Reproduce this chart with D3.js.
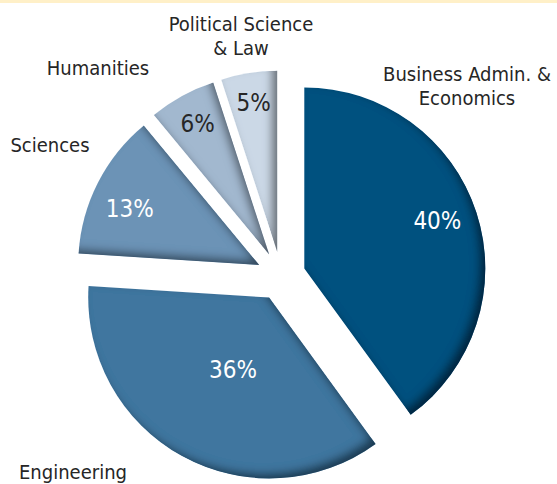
<!DOCTYPE html>
<html>
<head>
<meta charset="utf-8">
<script src="https://cdn.jsdelivr.net/npm/d3@7"></script>
<style>
  html, body { margin: 0; padding: 0; background: #ffffff; }
  svg { display: block; }
  text { font-family: "DejaVu Sans Condensed", "DejaVu Sans", sans-serif; }
</style>
</head>
<body>
<svg id="chart" width="557" height="484"></svg>
<script>
// Share of students by field of study
const categories = [
  "Business Admin. & Economics",
  "Engineering",
  "Sciences",
  "Humanities",
  "Political Science & Law"
];
const shares = [40, 36, 13, 6, 5];
const valueLabels = ["40%", "36%", "13%", "6%", "5%"];

// Category label lines (multi-line names are split here)
const nameLines = [
  ["Business Admin. &", "Economics"],
  ["Engineering"],
  ["Sciences"],
  ["Humanities"],
  ["Political Science", "& Law"]
];

const fills = ["#02517f", "#41769f", "#6c93b6", "#a2b8cf", "#cbd8e6"];
const valueInk = ["#ffffff", "#ffffff", "#ffffff", "#262626", "#262626"];

// Layout
const W = 557, H = 484;
const cx = 281, cy = 276;
const radius = 181;
const explode = 24.5;
// radial position of the percentage text, as a fraction of the radius
const valueRadius = [0.78, 0.45, 0.78, 0.82, 0.83];
// small angular nudge of the percentage text, degrees
const valueTurn = [-1.5, -2.5, -3.5, 0, 0];
// category label anchors: [x, first baseline]
const nameAnchor = [[467, 81], [73, 479], [50, 152], [98, 75], [241, 31]];
const lineGap = 24;

const svg = d3.select("#chart");

// thin cream band along the top edge
svg.append("rect").attr("x", 0).attr("y", 0).attr("width", W).attr("height", 3)
  .attr("fill", "#fff0c8");

// inner shadow on the lower-right edges of each slice
const defs = svg.append("defs");
const f = defs.append("filter").attr("id", "bevel")
  .attr("x", "-10%").attr("y", "-10%").attr("width", "120%").attr("height", "120%");
f.append("feGaussianBlur").attr("in", "SourceAlpha").attr("stdDeviation", 4).attr("result", "blur");
f.append("feOffset").attr("in", "blur").attr("dx", -6).attr("dy", -5).attr("result", "shifted");
f.append("feComposite").attr("in", "SourceAlpha").attr("in2", "shifted")
  .attr("operator", "arithmetic").attr("k2", 1).attr("k3", -1).attr("result", "rim");
f.append("feFlood").attr("flood-color", "#000000").attr("flood-opacity", 0.75);
f.append("feComposite").attr("in2", "rim").attr("operator", "in").attr("result", "shade");
const m = f.append("feMerge");
m.append("feMergeNode").attr("in", "SourceGraphic");
m.append("feMergeNode").attr("in", "shade");

const pie = d3.pie().sort(null).value(d => d)(shares);
const arc = d3.arc().innerRadius(0).outerRadius(radius);

const g = svg.append("g").attr("transform", `translate(${cx},${cy})`);

const slice = g.selectAll("g.slice").data(pie).enter().append("g")
  .attr("class", "slice")
  .attr("transform", d => {
    const a = (d.startAngle + d.endAngle) / 2;
    return `translate(${explode * Math.sin(a)},${-explode * Math.cos(a)})`;
  });

slice.append("path")
  .attr("d", arc)
  .attr("fill", (d, i) => fills[i])
  .attr("filter", "url(#bevel)");

const labelAngle = (d, i) => (d.startAngle + d.endAngle) / 2 + valueTurn[i] * Math.PI / 180;

slice.append("text")
  .attr("x", (d, i) => radius * valueRadius[i] * Math.sin(labelAngle(d, i)))
  .attr("y", (d, i) => -radius * valueRadius[i] * Math.cos(labelAngle(d, i)))
  .attr("text-anchor", "middle")
  .attr("dominant-baseline", "central")
  .attr("font-size", 24)
  .attr("fill", (d, i) => valueInk[i])
  .text((d, i) => valueLabels[i]);

// category names
const names = svg.append("g");
nameLines.forEach((lines, i) => {
  const t = names.append("text")
    .attr("x", nameAnchor[i][0])
    .attr("y", nameAnchor[i][1])
    .attr("text-anchor", "middle")
    .attr("font-size", 20)
    .attr("fill", "#262626");
  lines.forEach((ln, k) => {
    t.append("tspan").attr("x", nameAnchor[i][0]).attr("dy", k === 0 ? 0 : lineGap).text(ln);
  });
});
</script>
</body>
</html>
